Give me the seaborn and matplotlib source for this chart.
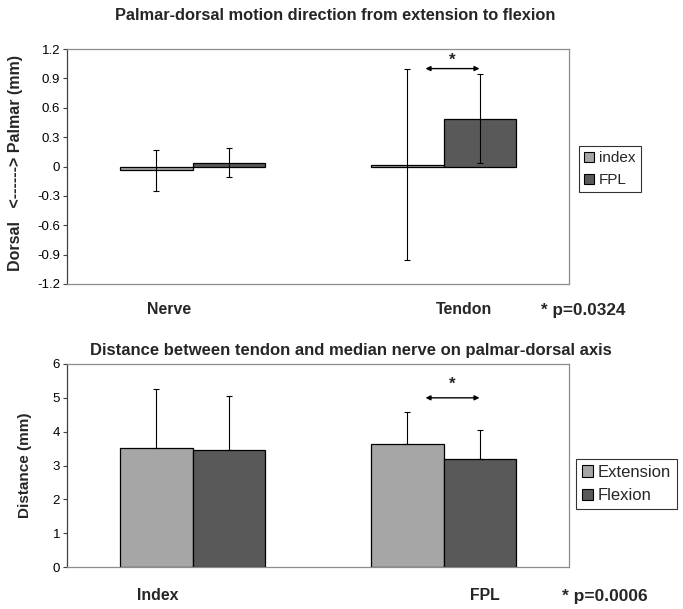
import matplotlib
matplotlib.use("Agg")
import matplotlib.pyplot as plt
import seaborn as sns
import pandas as pd
import numpy as np
from matplotlib.ticker import FuncFormatter, MultipleLocator

# ---------------- data ----------------
top_groups = ["Nerve", "Tendon"]
top_series = ["index", "FPL"]
top_index_mean = [-0.04, 0.02]
top_fpl_mean = [0.04, 0.49]
top_index_err = [0.21, 0.975]
top_fpl_err = [0.15, 0.45]

bot_groups = ["Index", "FPL"]
bot_series = ["Extension", "Flexion"]
bot_ext_mean = [3.52, 3.65]
bot_flex_mean = [3.45, 3.19]
bot_ext_err = [1.74, 0.93]
bot_flex_err = [1.61, 0.86]

top_title = "Palmar-dorsal motion direction from extension to flexion"
bot_title = "Distance between tendon and median nerve on palmar-dorsal axis"
top_ylabel = "Dorsal   <------> Palmar (mm)"
bot_ylabel = "Distance (mm)"
top_p = "* p=0.0324"
bot_p = "* p=0.0006"

# ---------------- style ----------------
sns.set_theme(style="white")
plt.rcParams["font.family"] = ["Liberation Sans", "DejaVu Sans"]
plt.rcParams["axes.unicode_minus"] = False

LIGHT = "#A6A6A6"
DARK = "#595959"
W, H = 683, 609
fig = plt.figure(figsize=(W / 100, H / 100), dpi=100)


def px_axes(x0, y0, x1, y1):
    return fig.add_axes([x0 / W, 1 - y1 / H, (x1 - x0) / W, (y1 - y0) / H])


def draw(ax, groups, series, m1, m2, e1, e2, upper_only):
    df = pd.DataFrame({
        "group": groups * 2,
        "series": [series[0]] * len(groups) + [series[1]] * len(groups),
        "value": list(m1) + list(m2),
    })
    sns.barplot(data=df, x="group", y="value", hue="series", order=groups,
                hue_order=series, palette=[LIGHT, DARK], width=0.574,
                edgecolor="black", linewidth=0.9, errorbar=None, ax=ax,
                saturation=1, legend=False)
    for cont, errs, means in zip(ax.containers, [e1, e2], [m1, m2]):
        xs = [p.get_x() + p.get_width() / 2 for p in cont.patches]
        if upper_only:
            yerr = [np.zeros(len(errs)), errs]
        else:
            yerr = errs
        ax.errorbar(xs, means, yerr=yerr, fmt="none", ecolor="black",
                    elinewidth=0.8, capsize=2.5, capthick=0.8, zorder=5)
    for s in ["top", "right", "bottom"]:
        ax.spines[s].set_color("#8c8c8c")
        ax.spines[s].set_linewidth(0.9)
    ax.spines["left"].set_color("#404040")
    ax.spines["left"].set_linewidth(0.9)
    ax.set_xlim(-0.5, len(groups) - 0.5)
    ax.set_xticks([])
    ax.set_xlabel("")
    ax.set_ylabel("")
    ax.tick_params(axis="y", left=True, length=3, width=0.8, color="#404040",
                   labelsize=9.5, pad=2, labelcolor="black")
    handles = [plt.Rectangle((0, 0), 1, 1, facecolor=c, edgecolor="black",
                             linewidth=0.8) for c in [LIGHT, DARK]]
    return handles


def sig_arrow(ax, y_arrow, y_star):
    conts = ax.containers
    p_left = conts[0].patches[1]
    p_right = conts[1].patches[1]
    x0 = p_left.get_x() + p_left.get_width() * 0.75
    x1 = p_right.get_x() + p_right.get_width() * 0.5
    ax.annotate("", xy=(x1, y_arrow), xytext=(x0, y_arrow),
                arrowprops=dict(arrowstyle="<|-|>", color="black", lw=1.0,
                                mutation_scale=7, shrinkA=0, shrinkB=0))
    ax.text((x0 + x1) / 2, y_star, "*", ha="center", va="center",
            fontsize=12, fontweight="bold")


def add_legend(handles, labels, x, y, fs):
    leg = fig.legend(handles, labels, loc="upper left",
                     bbox_to_anchor=(x / W, 1 - y / H), frameon=True,
                     fontsize=fs, handlelength=0.65, handleheight=0.65,
                     handletextpad=0.3, borderpad=0.35, labelspacing=0.5,
                     borderaxespad=0, fancybox=False, edgecolor="black")
    leg.get_frame().set_linewidth(0.8)


def ftext(x, y, s, fs, rot=0):
    fig.text(x / W, 1 - y / H, s, ha="center", va="center", rotation=rot,
             fontsize=fs, fontweight="bold")


# ---------------- top chart ----------------
ax1 = px_axes(67, 49, 569, 284)
h1 = draw(ax1, top_groups, top_series, top_index_mean, top_fpl_mean,
          top_index_err, top_fpl_err, upper_only=False)
ax1.set_ylim(-1.2, 1.2)
ax1.yaxis.set_major_locator(MultipleLocator(0.3))
ax1.yaxis.set_major_formatter(FuncFormatter(
    lambda v, p: "0" if abs(v) < 1e-9 else f"{v:.1f}"))
sig_arrow(ax1, 1.0, 1.09)
add_legend(h1, top_series, 579, 146, 11)

ftext(335, 16, top_title, 11.8)
ftext(16, 163, top_ylabel, 11.5, rot=90)
ftext(169, 310, top_groups[0], 11.4)
ftext(464, 310, top_groups[1], 11.4)
ftext(583, 311, top_p, 12.3)

# ---------------- bottom chart ----------------
ax2 = px_axes(67, 364, 569, 567)
h2 = draw(ax2, bot_groups, bot_series, bot_ext_mean, bot_flex_mean,
          bot_ext_err, bot_flex_err, upper_only=True)
ax2.set_ylim(0, 6)
ax2.yaxis.set_major_locator(MultipleLocator(1))
ax2.yaxis.set_major_formatter(FuncFormatter(lambda v, p: f"{v:.0f}"))
sig_arrow(ax2, 5.0, 5.4)
add_legend(h2, bot_series, 576, 459, 12)

ftext(351, 350, bot_title, 12)
ftext(25, 465, bot_ylabel, 11, rot=90)
ftext(158, 595, bot_groups[0], 11.4)
ftext(485, 595, bot_groups[1], 11.4)
ftext(605, 596, bot_p, 12.5)

fig.savefig("out.png", dpi=100, facecolor="white")
